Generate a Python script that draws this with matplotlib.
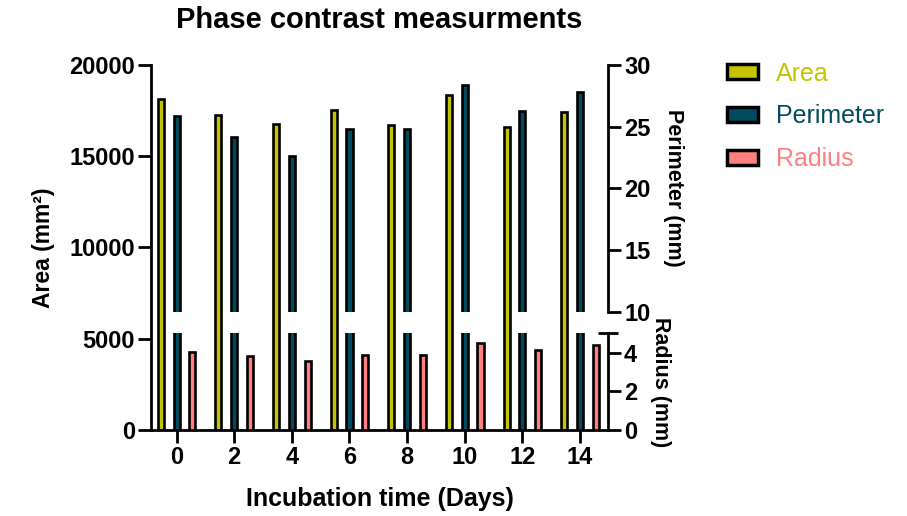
import numpy as np
import matplotlib
matplotlib.use('Agg')
import matplotlib.pyplot as plt
from matplotlib.patches import Patch

# Данные
days = [0, 2, 4, 6, 8, 10, 12, 14]
area = [18150, 17260, 16770, 17520, 16730, 18360, 16590, 17430]
perimeter = [25.85, 24.2, 22.6, 24.85, 24.8, 28.4, 26.25, 27.8]
radius = [4.05, 3.82, 3.55, 3.9, 3.9, 4.48, 4.15, 4.4]

c_area = '#C4C400'
c_perim = '#004C5E'
c_rad = '#FF8080'

plt.rcParams['font.family'] = ['Liberation Sans', 'DejaVu Sans']
plt.rcParams['font.weight'] = 'bold'
plt.rcParams['axes.labelweight'] = 'bold'

fig = plt.figure(figsize=(9.07, 5.16), dpi=100)
L, W = 0.1665, 0.5039
ax = fig.add_axes([L, 0.1667, W, 0.7074])
ax_top = fig.add_axes([L, 0.396, W, 0.478])
ax_bot = fig.add_axes([L, 0.1667, W, 0.1874])

idx = np.arange(len(days))
off = 0.273
bw = 0.105
lw = 1.9

ax.bar(idx - off, area, bw, color=c_area, edgecolor='black', linewidth=lw)
ax_top.bar(idx, perimeter, bw, color=c_perim, edgecolor='black', linewidth=lw)
ax_bot.bar(idx, perimeter, bw, color=c_perim, edgecolor='black', linewidth=lw)
ax_bot.bar(idx + off, radius, bw, color=c_rad, edgecolor='black', linewidth=lw)

xlim = (-0.443, 7.486)
for a in (ax, ax_top, ax_bot):
    a.set_xlim(*xlim)
    for s in a.spines.values():
        s.set_linewidth(2)

# Левая ось
ax.set_ylim(0, 20000)
ax.set_yticks([0, 5000, 10000, 15000, 20000])
ax.set_xticks(idx)
ax.set_xticklabels([str(d) for d in days])
ax.spines['top'].set_visible(False)
ax.spines['right'].set_visible(False)
ax.tick_params(axis='both', labelsize=17, width=2, length=9.5, pad=2)
ax.set_ylabel('Area (mm²)', fontsize=16.5, labelpad=10)
ax.set_xlabel('Incubation time (Days)', fontsize=18, labelpad=13)

# Правая ось с разрывом
for a in (ax_top, ax_bot):
    a.patch.set_alpha(0)
    a.spines['top'].set_visible(False)
    a.spines['left'].set_visible(False)
    a.spines['bottom'].set_visible(False)
    a.xaxis.set_visible(False)
    a.yaxis.tick_right()
    a.yaxis.set_label_position('right')
    a.tick_params(axis='y', which='major', labelsize=17, width=2, length=9.5, pad=2)
    a.tick_params(axis='y', which='minor', direction='inout', width=2, length=15,
                  left=False, right=True)

ax_top.set_ylim(10, 30)
ax_top.set_yticks([10, 15, 20, 25, 30])
ax_top.set_yticks([10], minor=True)
ax_top.set_ylabel('Perimeter (mm)', fontsize=15.5, rotation=-90, va='bottom', labelpad=9)

ax_bot.set_ylim(0, 5)
ax_bot.set_yticks([0, 2, 4])
ax_bot.set_yticks([5], minor=True)
ax_bot.set_ylabel('Radius (mm)', fontsize=15.5, rotation=-90, va='bottom', labelpad=9)

fig.text(0.4184, 0.961, 'Phase contrast measurments', ha='center', va='center',
         fontsize=21, fontweight='bold')

handles = [Patch(facecolor=c, edgecolor='black', linewidth=2.5)
           for c in (c_area, c_perim, c_rad)]
fig.legend(handles, ['Area', 'Perimeter', 'Radius'], loc='upper left',
           bbox_to_anchor=(0.777, 0.924), frameon=False,
           prop={'size': 18, 'weight': 'normal'},
           labelcolor=[c_area, c_perim, c_rad],
           handlelength=1.25, handleheight=0.55, handletextpad=0.7,
           labelspacing=0.75)

fig.savefig('out.png', dpi=100)
